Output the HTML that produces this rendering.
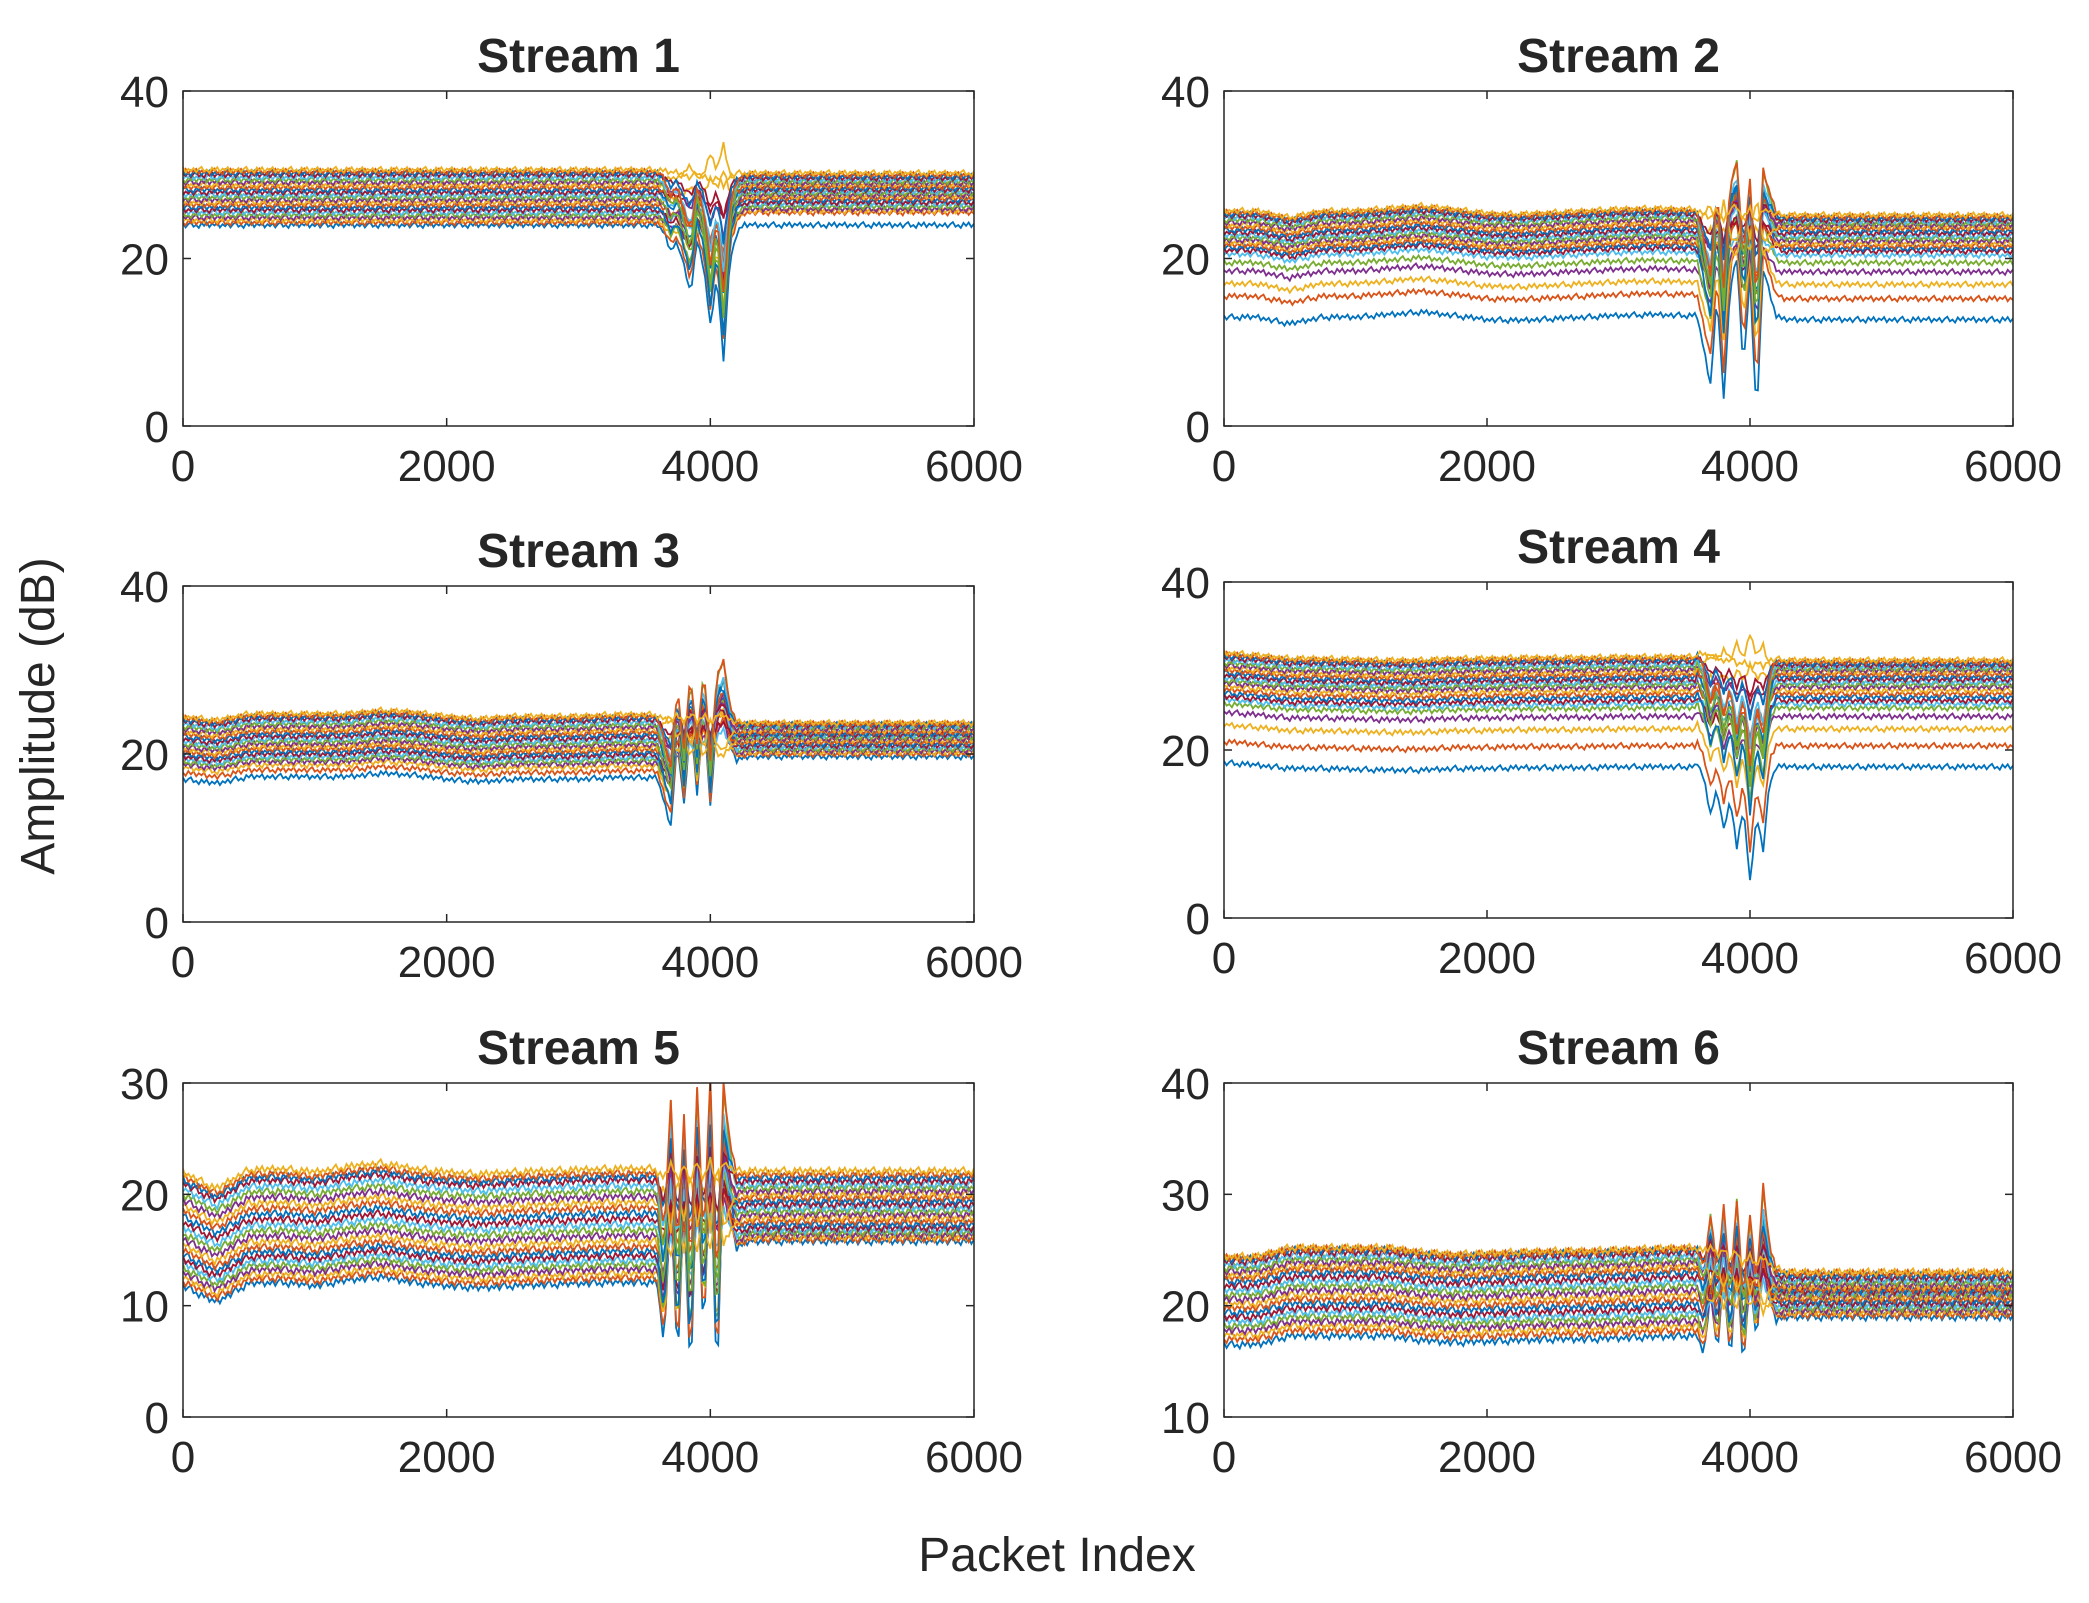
<!DOCTYPE html>
<html><head><meta charset="utf-8"><style>
html,body{margin:0;padding:0;background:#fff}
svg text{font-family:"Liberation Sans",Arial,sans-serif;fill:#262626}
</style></head><body>
<svg id="fig" width="2089" height="1598" viewBox="0 0 2089 1598" xmlns="http://www.w3.org/2000/svg">
<text x="0" y="0" transform="translate(54,716) rotate(-90)" text-anchor="middle" font-size="48">Amplitude (dB)</text>
<text x="1057" y="1571" text-anchor="middle" font-size="48">Packet Index</text>
</svg>
<script>
const xTickVals = [0,2000,4000,6000];
const eventX = [3600,3650,3700,3750,3800,3850,3900,3950,4000,4050,4100,4150,4200,4250,4300];
const driftX = [0,250,500,750,1000,1250,1500,1750,2000,2250,2500,2750,3000,3250,3500];
const gains = [1,0.9,0.7,0.5,0.8,0.3,0.6,1,0.4,-0.2,0.7,0.9,0.5,0.2,0.8,0.6,-0.3,0.4,1,0.7,0.3,0.5,0.9,0.1];
const jitter = [0.2,-0.3,0.1,0.35,-0.2,0,-0.35,0.25,-0.1,0.3,-0.25,0.15,-0.05,0.3,-0.3,0.1,-0.15];

const s1Before = [24,24.3,24.6,24.9,25.2,25.5,25.8,26.1,26.4,26.7,27,27.3,27.6,27.9,28.2,28.5,28.8,29.1,29.4,29.7,30,30.2,30.4,30.6];
const s1After = [24,25.5,25.7,25.9,26.2,26.5,26.7,27,27.2,27.4,27.6,27.8,28,28.2,28.4,28.6,28.8,29,29.2,29.4,29.6,29.8,30,30.2];
const s1Event = [0,-1,-3,-2,-5,-8,-2,-5,-12,-6,-16,-4,-1,0,0];
const s1Drift = [0,0,0,0,0,0,0,0,0,0,0,0,0,0,0];

const s2Before = [13,15.5,17,18.5,19.5,20.5,21,21.3,21.6,21.9,22.2,22.5,22.8,23.1,23.4,23.7,24,24.3,24.6,24.9,25.1,25.3,25.5,25.7];
const s2After = [12.5,15,16.7,18.2,19.3,20.2,20.7,21,21.3,21.6,21.9,22.2,22.5,22.8,23.1,23.4,23.6,23.8,24,24.2,24.4,24.6,24.8,25];
const s2Event = [0,-4,-8,3,-10,4,7,-6,5,-12,6,3,0.5,0,0];
const s2Drift = [0,0,-0.8,0,0,0.3,0.6,0.2,-0.3,-0.4,-0.2,0,0.2,0.3,0.2];

const s3Before = [17,17.8,18.4,18.8,19.1,19.4,19.7,20,20.3,20.6,20.9,21.2,21.5,21.8,22.1,22.4,22.7,23,23.3,23.6,23.9,24.1,24.3,24.5];
const s3After = [19.5,19.8,20,20.2,20.4,20.6,20.8,21,21.2,21.4,21.6,21.8,22,22.1,22.2,22.4,22.6,22.8,23,23.1,23.2,23.3,23.4,23.5];
const s3Event = [0,-3,-6,4,-4,6,-3,7,-5,6,8,2,0,0,0];
const s3Drift = [0,-0.5,0.3,0.3,0.3,0.3,0.7,0.5,0,-0.3,0,0,0,0.2,0.2];

const s4Before = [18.5,21,23,24.5,25.5,26,26.4,26.8,27.2,27.6,28,28.3,28.6,28.9,29.2,29.5,29.8,30.1,30.4,30.7,31,31.2,31.4,31.6];
const s4After = [18.5,21,23,24.5,25.5,26,26.4,26.8,27.2,27.6,28,28.3,28.6,28.9,29.2,29.5,29.8,30,30.2,30.4,30.6,30.8,31,31.2];
const s4Event = [0,-2,-6,-3,-8,-4,-10,-5,-14,-6,-10,-2,0,0,0];
const s4Drift = [0,-0.3,-0.7,-0.7,-0.8,-0.9,-0.9,-0.7,-0.7,-0.6,-0.6,-0.6,-0.5,-0.5,-0.5];

const s5Before = [11.8,12.2,12.6,13,13.4,13.8,14.2,14.6,15,15.5,16,16.5,17,17.5,18,18.5,19,19.5,20,20.5,21,21.3,21.6,22];
const s5After = [15.5,15.7,15.9,16.1,16.3,16.5,16.7,17,17.3,17.6,17.9,18.2,18.5,18.8,19.1,19.4,19.7,20,20.3,20.6,20.9,21.2,21.5,21.8];
const s5Event = [0,-6,8,-8,6,-10,9,-7,10,-12,9,3,0,0,0];
const s5Drift = [0,-1.5,0.2,0.3,0,0.5,0.8,0.3,0,-0.2,0,0.1,0.2,0.3,0.3];

const s6Before = [17.3,17.8,18.2,18.6,19,19.4,19.8,20.2,20.6,21,21.4,21.8,22.2,22.6,23,23.3,23.6,23.9,24.2,24.5,24.8,25,25.1,25.2];
const s6After = [19,19.2,19.4,19.6,19.8,20,20.2,20.4,20.6,20.8,21,21.1,21.2,21.3,21.4,21.5,21.7,21.9,22.1,22.3,22.5,22.7,22.9,23];
const s6Event = [0,-2,4,-2,5,-3,6,-4,5,-2,8,2,0,0,0];
const s6Drift = [-0.8,-0.8,0,0,0,0,-0.4,-0.6,-0.5,-0.4,-0.3,-0.3,-0.2,-0.1,0];

const yTicks14 = [0,20,40];
const yTicks5 = [0,10,20,30];
const yTicks6 = [10,20,30,40];

const colors = ['#0072BD','#D95319','#EDB120','#7E2F8E','#77AC30','#4DBEEE','#A2142F'];
const NS = 'http://www.w3.org/2000/svg';
const svg = document.getElementById('fig');

const panels = [
 {t:'Stream 1',l:183,tp:91,r:974,b:426,ymin:0,ymax:40,yt:yTicks14,bf:s1Before,af:s1After,ev:s1Event,dr:s1Drift},
 {t:'Stream 2',l:1224,tp:91,r:2013,b:426,ymin:0,ymax:40,yt:yTicks14,bf:s2Before,af:s2After,ev:s2Event,dr:s2Drift},
 {t:'Stream 3',l:183,tp:586,r:974,b:922,ymin:0,ymax:40,yt:yTicks14,bf:s3Before,af:s3After,ev:s3Event,dr:s3Drift},
 {t:'Stream 4',l:1224,tp:582,r:2013,b:918,ymin:0,ymax:40,yt:yTicks14,bf:s4Before,af:s4After,ev:s4Event,dr:s4Drift},
 {t:'Stream 5',l:183,tp:1083,r:974,b:1417,ymin:0,ymax:30,yt:yTicks5,bf:s5Before,af:s5After,ev:s5Event,dr:s5Drift},
 {t:'Stream 6',l:1224,tp:1083,r:2013,b:1417,ymin:10,ymax:40,yt:yTicks6,bf:s6Before,af:s6After,ev:s6Event,dr:s6Drift}
];

function mk(tag, attrs, parent){
  const e = document.createElementNS(NS, tag);
  for (const k in attrs) e.setAttribute(k, attrs[k]);
  parent.appendChild(e);
  return e;
}
function interp(xs, ys, x){
  if (x <= xs[0]) return ys[0];
  for (let i=1;i<xs.length;i++){
    if (x <= xs[i]){ const f=(x-xs[i-1])/(xs[i]-xs[i-1]); return ys[i-1]+f*(ys[i]-ys[i-1]); }
  }
  return ys[ys.length-1];
}

panels.forEach((p, pi) => {
  const g = mk('g', {}, svg);
  
  
  const xs = v => p.l + (v/6000)*(p.r-p.l);
  const ys = v => p.b - (v-p.ymin)/(p.ymax-p.ymin)*(p.b-p.tp);
  const clipId = 'clip'+pi;
  const cp = mk('clipPath', {id:clipId}, g);
  mk('rect', {x:p.l, y:p.tp, width:p.r-p.l, height:p.b-p.tp}, cp);
  const lg = mk('g', {'clip-path':'url(#'+clipId+')'}, g);
  for (let i=0;i<p.bf.length;i++){
    let d = '';
    for (let k=0;k<=300;k++){
      const x = k*20;
      let v;
      if (x < 3600) v = p.bf[i] + interp(driftX, p.dr, x);
      else if (x > 4300) v = p.af[i] + interp(driftX, p.dr, 3500);
      else {
        const f = (x-3600)/700;
        v = p.bf[i] + f*(p.af[i]-p.bf[i]) + interp(driftX,p.dr,3500)*f + interp(eventX, p.ev, x)*gains[i];
      }
      v += jitter[(k + i*5) % jitter.length];
      d += (k?'L':'M') + xs(x).toFixed(1) + ' ' + ys(v).toFixed(1);
    }
    const path = mk('path', {d:d, fill:'none', stroke:colors[i%colors.length], 'stroke-width':'1.8'}, lg);
    
    
  }
  const box = mk('rect', {x:p.l, y:p.tp, width:p.r-p.l, height:p.b-p.tp, fill:'none', stroke:'#262626', 'stroke-width':'1.5'}, g);
  
  
  xTickVals.forEach(v => {
    const x = xs(v);
    mk('line', {x1:x, x2:x, y1:p.b, y2:p.b-8, stroke:'#262626', 'stroke-width':'1.5'}, g);
    mk('line', {x1:x, x2:x, y1:p.tp, y2:p.tp+8, stroke:'#262626', 'stroke-width':'1.5'}, g);
    const t = mk('text', {x:x, y:p.b+55, 'text-anchor':'middle', 'font-size':'44'}, g);
    t.textContent = v;
    
    
  });
  p.yt.forEach(v => {
    const y = ys(v);
    mk('line', {x1:p.l, x2:p.l+8, y1:y, y2:y, stroke:'#262626', 'stroke-width':'1.5'}, g);
    mk('line', {x1:p.r, x2:p.r-8, y1:y, y2:y, stroke:'#262626', 'stroke-width':'1.5'}, g);
    const t = mk('text', {x:p.l-14, y:y+16, 'text-anchor':'end', 'font-size':'44'}, g);
    t.textContent = v;
    
    
  });
  const tt = mk('text', {x:(p.l+p.r)/2, y:p.tp-19, 'text-anchor':'middle', 'font-size':'48', 'font-weight':'bold'}, g);
  tt.textContent = p.t;
  
  
});
</script>
</body></html>
